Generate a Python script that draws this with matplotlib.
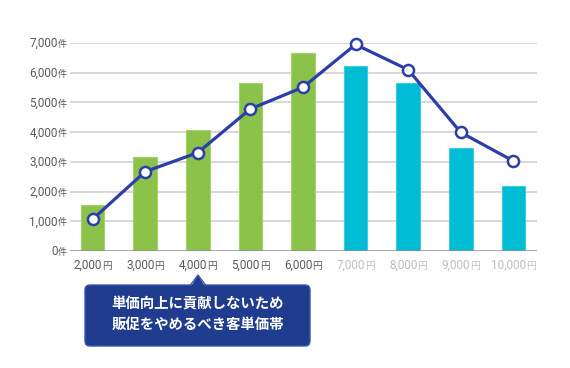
import numpy as np
import matplotlib
matplotlib.use('Agg')
import matplotlib.pyplot as plt
import matplotlib.transforms as mtransforms
from matplotlib.patches import FancyBboxPatch, Polygon
from matplotlib.lines import Line2D

# ---- data ----
categories = ['2,000', '3,000', '4,000', '5,000', '6,000', '7,000', '8,000', '9,000', '10,000']
bar_values = [1550, 3170, 4060, 5650, 6650, 6220, 5660, 3470, 2190]
line_values = [1070, 2670, 3310, 4780, 5510, 6950, 6100, 3990, 3030]
y_ticks = [0, 1000, 2000, 3000, 4000, 5000, 6000, 7000]
x_unit = '円'
y_unit = '件'
callout_lines = ['単価向上に貢献しないため', '販促をやめるべき客単価帯']

# ---- styles ----
GREEN = '#8bc34a'
CYAN = '#00bcd4'
LINE = '#2c3eaa'
bar_colors = [GREEN] * 5 + [CYAN] * 4
bar_edges = ['#a3d16b'] * 5 + ['#3fcbe0'] * 4
label_colors = ['#555a60'] * 5 + ['#bcbec4'] * 4
NUM_FONT = ['Roboto', 'DejaVu Sans']
CJK_FONT = ['Noto Sans CJK JP', 'DejaVu Sans']

W, H, DPI = 570, 368, 100
fig = plt.figure(figsize=(W / DPI, H / DPI), dpi=DPI)
ax = fig.add_axes([70 / W, 1 - 251 / H, (537 - 70) / W, (251 - 43) / H])

x = np.arange(len(categories))
ax.bar(x, bar_values, width=0.45, color=bar_colors, edgecolor=bar_edges,
       linewidth=0.8, zorder=2)
ax.plot(x, line_values, color=LINE, lw=2.3, marker='o', ms=8, mfc='white',
        mec=LINE, mew=1.8, zorder=5, solid_capstyle='round', clip_on=False)

ax.set_xlim(-0.43, 8.45)
ax.set_ylim(0, 7000)
for t in y_ticks[1:]:
    ax.axhline(t, color='#d6d7db', lw=1.4, zorder=1)
ax.axhline(0, color='#8d8f94', lw=1.8, zorder=4)
for s in ax.spines.values():
    s.set_visible(False)
ax.set_xticks([])
ax.set_yticks([])

def px(dx, dy):
    return mtransforms.ScaledTranslation(dx / DPI, dy / DPI, fig.dpi_scale_trans)

# y tick labels: number + small unit
ytr = ax.get_yaxis_transform()
for t in y_ticks:
    ax.text(0, t, f'{t:,}', transform=ytr + px(-12, -4.2), ha='right',
            va='baseline', fontsize=8.4, color='#555a60', family=NUM_FONT)
    ax.text(0, t, y_unit, transform=ytr + px(-3, -4.2), ha='right',
            va='baseline', fontsize=6.6, color='#555a60', family=CJK_FONT)

# x tick labels: number + small unit, centered together
fig.canvas.draw()
renderer = fig.canvas.get_renderer()
xtr = ax.get_xaxis_transform()
for i, (c, col) in enumerate(zip(categories, label_colors)):
    t1 = ax.text(i, 0, c, transform=xtr, ha='left', va='baseline',
                 fontsize=8.4, color=col, family=NUM_FONT)
    t2 = ax.text(i, 0, x_unit, transform=xtr, ha='left', va='baseline',
                 fontsize=7.0, color=col, family=CJK_FONT)
    w1 = t1.get_window_extent(renderer).width
    w2 = t2.get_window_extent(renderer).width
    gap = 0.0
    total = w1 + gap + w2
    t1.set_transform(xtr + px(-total / 2, -17.5))
    t2.set_transform(xtr + px(-total / 2 + w1 + gap, -17.5))

# callout box (pixel coordinates, origin bottom-left)
ident = mtransforms.IdentityTransform()
bx0, by0, bw, bh = 85, H - 346, 225, 61
box = FancyBboxPatch((bx0, by0), bw, bh, boxstyle='round,pad=0,rounding_size=5',
                     transform=ident, facecolor='#1f3c8e', edgecolor='#3a57ad',
                     linewidth=1.0, zorder=10)
fig.patches.append(box)
apex_x = 198
tri = Polygon([(apex_x - 7, by0 + bh - 1.5), (apex_x, H - 275), (apex_x + 7, by0 + bh - 1.5)],
              closed=True, transform=ident, facecolor='#1f3c8e', edgecolor='none', zorder=11)
fig.patches.append(tri)
edge = Line2D([apex_x - 7.5, apex_x, apex_x + 7.5], [by0 + bh, H - 275, by0 + bh],
              transform=ident, color='#3a57ad', lw=1.0, zorder=12)
fig.lines.append(edge)

for line_txt, yc in zip(callout_lines, [305, 325]):
    fig.text(apex_x / W, 1 - yc / H, line_txt, ha='center', va='center',
             fontsize=10.4, color='white', weight='bold', family=CJK_FONT, zorder=13)

fig.savefig('out.png', dpi=DPI, facecolor='white')
